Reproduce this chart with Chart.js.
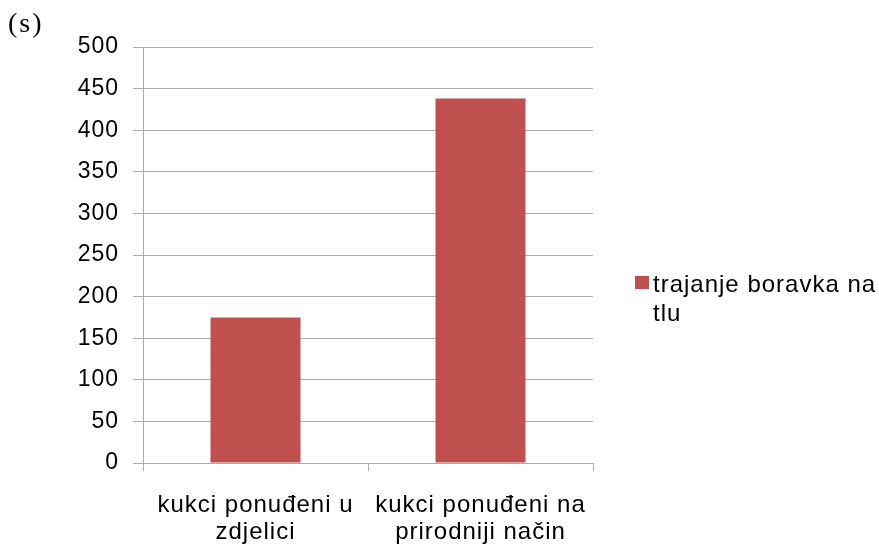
<!DOCTYPE html>
<html>
<head>
<meta charset="utf-8">
<script src="https://cdn.jsdelivr.net/npm/chart.js@4"></script>
<style>
  html, body { margin: 0; padding: 0; background: #fff; }
  #wrap { width: 879px; height: 544px; position: relative; }
</style>
</head>
<body>
<div id="wrap"><canvas id="chart" width="879" height="544"></canvas></div>
<script>
// categories and values
var categories = [
  ['kukci ponuđeni u', 'zdjelici'],
  ['kukci ponuđeni na', 'prirodniji način']
];
var seriesName = ['trajanje boravka na', 'tlu'];
var durations = [175, 438];
var yTicks = [0, 50, 100, 150, 200, 250, 300, 350, 400, 450, 500];
var unitLabel = '(s)';

var barColor = '#C0504D';
var lineColor = '#ABABAB';

function spacing(chart, px) {
  chart.ctx.letterSpacing = px;
}

// letter spacing, unit label and the side legend
var extras = {
  id: 'extras',
  beforeLayout: function(chart){ spacing(chart, '1px'); },
  beforeDraw: function(chart){ spacing(chart, '1px'); },
  afterDraw: function(chart){
    var ctx = chart.ctx;
    ctx.save();
    ctx.fillStyle = '#000';
    ctx.letterSpacing = '2px';
    ctx.font = '28px "Liberation Serif"';
    ctx.textBaseline = 'alphabetic';
    ctx.fillText(unitLabel, 8, 32);

    var ds = chart.data.datasets[0];
    ctx.fillStyle = ds.backgroundColor;
    ctx.fillRect(635, 276, 14, 13);
    ctx.fillStyle = '#000';
    ctx.letterSpacing = '1px';
    ctx.font = '24px "Liberation Sans"';
    seriesName.forEach(function(line, i){
      ctx.fillText(line, 653, 292 + i * 29);
    });
    ctx.restore();
  }
};

new Chart(document.getElementById('chart'), {
  type: 'bar',
  data: {
    labels: categories,
    datasets: [{
      label: seriesName.join(' '),
      data: durations,
      backgroundColor: barColor,
      borderWidth: 0,
      barPercentage: 0.8,
      categoryPercentage: 0.5
    }]
  },
  options: {
    responsive: false,
    animation: false,
    layout: { padding: { top: 47, right: 286, left: 0, bottom: 0 } },
    plugins: { legend: { display: false }, tooltip: { enabled: false } },
    scales: {
      x: {
        afterFit: function(s){ s.height = 81; },
        grid: { offset: true, drawOnChartArea: false, color: lineColor, tickLength: 8 },
        border: { color: lineColor },
        ticks: {
          color: '#000',
          padding: 21,
          maxRotation: 0,
          autoSkip: false,
          font: { family: 'Liberation Sans', size: 24, lineHeight: 1.125 }
        }
      },
      y: {
        min: 0,
        max: 500,
        afterFit: function(s){ s.width = 143; },
        afterBuildTicks: function(s){ s.ticks = yTicks.map(function(v){ return { value: v }; }); },
        grid: { color: lineColor, tickLength: 10 },
        border: { color: lineColor },
        ticks: {
          color: '#000',
          padding: 14,
          font: { family: 'Liberation Sans', size: 23 }
        }
      }
    }
  },
  plugins: [extras]
});
</script>
</body>
</html>
